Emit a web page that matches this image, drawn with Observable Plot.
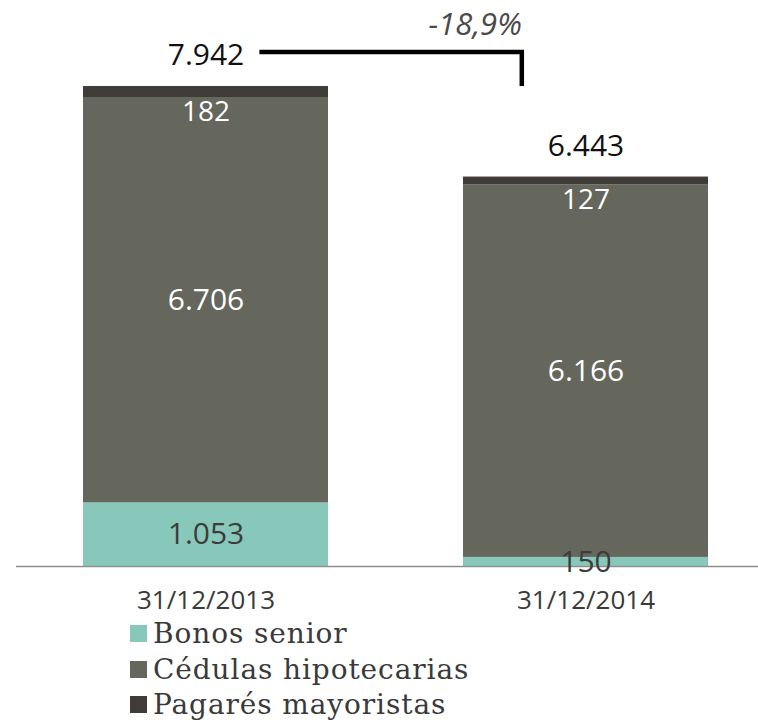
<!DOCTYPE html>
<html>
<head>
<meta charset="utf-8">
<script src="https://cdn.jsdelivr.net/npm/d3@7"></script>
<script src="https://cdn.jsdelivr.net/npm/@observablehq/plot@0.6"></script>
<style>
  body { margin: 0; background: #fff; width: 758px; height: 722px; overflow: hidden; }
  #legend { font-family: "DejaVu Serif", serif; font-size: 28px; color: #3a3a3a; letter-spacing: 0.9px; }
  .row { display: flex; align-items: center; height: 35.5px; padding-left: 130px; }
  .sw { width: 17px; height: 17px; margin-right: 6px; }
</style>
</head>
<body>
<div id="chart"></div>
<div id="legend"></div>
<script>
const dates = ["31/12/2013", "31/12/2014"];
const series = ["Bonos senior", "Cédulas hipotecarias", "Pagarés mayoristas"];
const bonos = [1053, 150];
const cedulas = [6706, 6166];
const pagares = [182, 127];
const totals = [7942, 6443];
const change = "-18,9%";
const colors = ["#88c8bb", "#65665c", "#3f3c37"];

const valuesBySeries = [bonos, cedulas, pagares];
const rows = [];
dates.forEach((d, i) => {
  let base = 0;
  valuesBySeries.forEach((vals, s) => {
    rows.push({date: d, series: series[s], value: vals[i], lo: base, hi: base + vals[i], mid: base + vals[i] / 2});
    base += vals[i];
  });
});
const totalRows = dates.map((d, i) => ({date: d, total: totals[i]}));
const fmt = v => v.toLocaleString("de-DE");

function bracket(index, scales) {
  const x = scales.x, y = scales.y;
  const bw = typeof x.bandwidth === "function" ? x.bandwidth() : 0;
  const xa = x(dates[0]) + bw * 0.72;
  const xb = x(dates[1]) + bw * 0.24;
  const yTop = y(totals[0]) - 34;
  const yEnd = y(totals[0]);
  const g = d3.create("svg:g");
  g.append("path")
    .attr("d", `M${xa},${yTop}H${xb}V${yEnd}`)
    .attr("fill", "none")
    .attr("stroke", "#000")
    .attr("stroke-width", 4.5);
  g.append("text")
    .attr("x", xb)
    .attr("y", yTop - 17)
    .attr("text-anchor", "end")
    .attr("font-style", "italic")
    .attr("font-size", 31)
    .attr("fill", "#4a4a4a")
    .text(change);
  return g.node();
}

const plot = Plot.plot({
  width: 758,
  height: 616,
  marginLeft: 16,
  marginRight: 0,
  marginTop: 22,
  marginBottom: 50,
  style: {fontFamily: "'Open Sans', sans-serif", background: "#fff", color: "#3a3a3a", overflow: "visible"},
  x: {domain: dates, range: [83, 708], paddingInner: 0.3553, paddingOuter: 0},
  y: {domain: [0, 9000], axis: null},
  color: {domain: series, range: colors},
  marks: [
    Plot.rectY(rows, {x: "date", y1: "lo", y2: "hi", fill: "series"}),
    Plot.ruleY([0], {stroke: "#8f8f8f", strokeWidth: 1.5}),
    Plot.text(rows.filter(r => r.series !== series[2]), {
      x: "date", y: "mid", text: d => fmt(d.value), fontSize: 30,
      fill: d => d.series === series[0] ? "#3c3c3a" : "#fff"
    }),
    Plot.text(rows.filter(r => r.series === series[2]), {
      x: "date", y: "lo", text: d => fmt(d.value), fontSize: 28, fill: "#fff",
      lineAnchor: "top", dy: 4
    }),
    Plot.text(totalRows, {
      x: "date", y: "total", text: d => fmt(d.total), fontSize: 30, fill: "#111",
      lineAnchor: "bottom", dy: -21
    }),
    Plot.axisX({tickSize: 0, tickPadding: 24, fontSize: 26, label: null}),
    bracket
  ]
});
document.getElementById("chart").appendChild(plot);

const legend = document.getElementById("legend");
series.forEach((s, i) => {
  const row = document.createElement("div");
  row.className = "row";
  const sw = document.createElement("div");
  sw.className = "sw";
  sw.style.background = colors[i];
  const t = document.createElement("span");
  t.textContent = s;
  row.appendChild(sw);
  row.appendChild(t);
  legend.appendChild(row);
});
</script>
</body>
</html>
